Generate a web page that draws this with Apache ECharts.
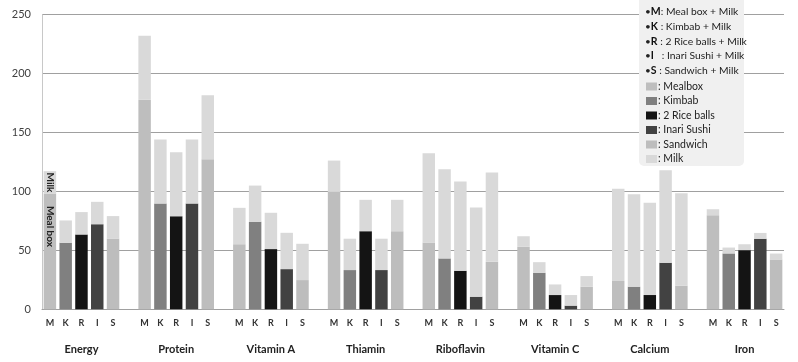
<!DOCTYPE html>
<html>
<head>
<meta charset="utf-8">
<script src="https://cdn.jsdelivr.net/npm/echarts@6/dist/echarts.min.js"></script>
<style>html,body{margin:0;padding:0;background:#fff;}#c{width:798px;height:362px;}</style>
</head>
<body>
<div id="c"></div>
<script>
const nutrients = ['Energy', 'Protein', 'Vitamin A', 'Thiamin', 'Riboflavin', 'Vitamin C', 'Calcium', 'Iron'];
const itemLetters = ['M', 'K', 'R', 'I', 'S'];
const foods = ['Mealbox', 'Kimbab', '2 Rice balls', 'Inari Sushi', 'Sandwich'];
const mealbox    = [98.2, 177.8, 55.3, 99.6, 56.7, 53.0, 24.0, 79.9];
const kimbab     = [56.4, 89.8, 74.2, 33.3, 43.2, 31.0, 19.2, 47.4];
const riceBalls  = [63.5, 79.0, 51.1, 66.3, 32.7, 12.1, 12.1, 50.2];
const inariSushi = [72.2, 89.8, 34.1, 33.3, 10.7, 3.1, 39.5, 59.8];
const sandwich   = [60.1, 127.3, 24.8, 66.3, 40.3, 19.2, 20.0, 42.3];
const milk       = [19.0, 54.3, 30.8, 26.6, 75.7, 9.0, 78.4, 5.0];
const yTicks = [0, 50, 100, 150, 200, 250];
const keyLines = [
  ['M', ': Meal box + Milk'],
  ['K', ' : Kimbab + Milk'],
  ['R', ' : 2 Rice balls + Milk'],
  ['I', '   : Inari Sushi + Milk'],
  ['S', ' : Sandwich + Milk']
];

const foodValues = [mealbox, kimbab, riceBalls, inariSushi, sandwich];
const foodColors = ['#bebebe', '#808080', '#141414', '#424242', '#bdbdbd'];
const milkColor = '#d9d9d9';
const FONT = 'Lato, "Open Sans", sans-serif';

// categories: 5 bars per nutrient + one blank slot between groups
const cats = [];
nutrients.forEach((n, i) => {
  itemLetters.forEach(l => cats.push({ n: i, l: l }));
  if (i < nutrients.length - 1) cats.push({ n: i, l: '' });
});
const catKeys = cats.map((c, k) => nutrients[c.n] + '|' + c.l + '|' + k);

const series = foods.map((f, j) => ({
  name: f,
  type: 'bar',
  stack: 'total',
  barCategoryGap: '21%',
  itemStyle: { color: foodColors[j] },
  data: cats.map(c => {
    if (c.l !== itemLetters[j]) return null;
    const v = foodValues[j][c.n];
    if (j === 0 && c.n === 0) {
      return { value: v, label: { show: true, position: 'inside', rotate: -90, offset: [-25, 0],
        formatter: 'Meal box', fontSize: 10, fontWeight: 'bold', color: '#222', fontFamily: FONT } };
    }
    return v;
  })
}));
series.push({
  name: 'Milk',
  type: 'bar',
  stack: 'total',
  barCategoryGap: '21%',
  itemStyle: { color: milkColor },
  data: cats.map((c, k) => {
    if (c.l === '') return null;
    const v = milk[c.n];
    if (k === 0) {
      return { value: v, label: { show: true, position: 'inside', rotate: -90,
        formatter: 'Milk', fontSize: 10, fontWeight: 'bold', color: '#222', fontFamily: FONT } };
    }
    return v;
  })
});

const chart = echarts.init(document.getElementById('c'), null, { renderer: 'canvas' });
chart.setOption({
  animation: false,
  backgroundColor: '#fff',
  grid: { left: 42, right: 14, top: 14.7, bottom: 52.7 },
  xAxis: {
    type: 'category',
    data: catKeys,
    axisLine: { show: true, lineStyle: { color: '#a0a0a0', width: 1 } },
    axisTick: { show: false },
    axisLabel: {
      interval: 0,
      margin: 9,
      verticalAlign: 'top',
      formatter: (v, idx) => {
        const c = cats[idx];
        if (!c || c.l === '') return '';
        if (c.l === 'R') return '{l|R}\n{n|' + nutrients[c.n] + '}';
        return '{l|' + c.l + '}';
      },
      rich: {
        l: { fontSize: 9, fontWeight: 'bold', color: '#333', fontFamily: FONT, lineHeight: 10 },
        n: { fontSize: 11, fontWeight: 'bold', color: '#222', fontFamily: FONT, lineHeight: 43 }
      }
    }
  },
  yAxis: {
    type: 'value',
    min: 0, max: 250, interval: 50,
    axisLine: { show: true, lineStyle: { color: '#c8c8c8' } },
    axisTick: { show: false },
    splitLine: { lineStyle: { color: '#a0a0a0', width: 1 } },
    axisLabel: {
      margin: 11, fontSize: 11, color: '#404040', fontFamily: FONT,
      formatter: v => (yTicks.indexOf(v) >= 0 ? String(v) : '')
    }
  },
  legend: {
    orient: 'vertical',
    left: 646, top: 81,
    padding: 0,
    itemWidth: 11, itemHeight: 8, itemGap: 3.5,
    icon: 'rect',
    data: foods.concat(['Milk']),
    formatter: name => ': ' + name,
    textStyle: { fontSize: 10.5, color: '#222', fontFamily: FONT, padding: [0, 0, 0, -4] },
    selectedMode: false,
    z: 10
  },
  graphic: [
    { type: 'rect', z: 5, shape: { x: 639, y: -4, width: 105, height: 170, r: 5 },
      style: { fill: '#f0f0f0' } },
    { type: 'text', z: 11, x: 645, y: 4.3,
      style: {
        text: keyLines.map(k => '{d|•}{b|' + k[0] + '}{t|' + k[1] + '}').join('\n'),
        rich: {
          d: { fontSize: 10, fill: '#222', fontFamily: FONT, lineHeight: 14.8 },
          b: { fontSize: 10.5, fontWeight: 'bold', fill: '#111', fontFamily: FONT, lineHeight: 14.8 },
          t: { fontSize: 10.3, fill: '#222', fontFamily: FONT, lineHeight: 14.8 }
        }
      } }
  ],
  series: series
});
</script>
</body>
</html>
